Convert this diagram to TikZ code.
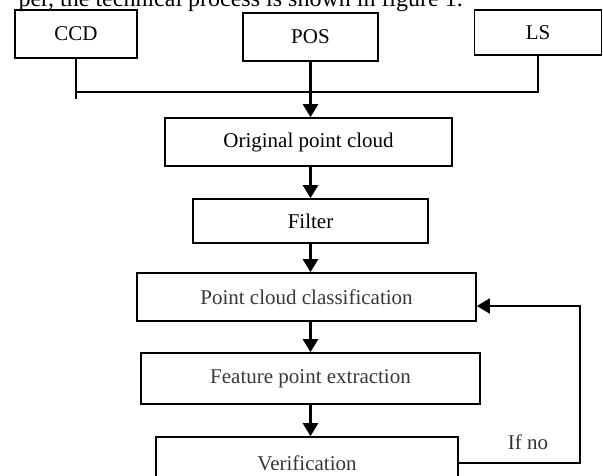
\documentclass[tikz,border=0pt]{standalone}
\usepackage{fontspec}
\setmainfont{Liberation Serif}
\usepackage{tikz}
\usetikzlibrary{arrows.meta}
\tikzstyle{procbox}=[draw,%
                     rectangle,%
                     line width    = 1.6pt,%
                     inner sep     = 0pt,%
                     font          = \fontsize{21}{25}\selectfont]
\tikzstyle{greybox}=[procbox, text=black!78]
\tikzstyle{flow}=[-{Triangle[width=15pt,length=13pt]}, line width=2.2pt]
\tikzstyle{busline}=[line width=1.7pt]

\begin{document}
\begin{tikzpicture}[x=1pt,y=-1pt]
            \useasboundingbox (0,0) rectangle (603,475);
            % cut-off line of the page text above the figure
            \node[anchor=base east, inner sep=0pt, font=\fontsize{24}{29}\selectfont] (caption) at (463,6) {per, the technical process is shown in figure 1.};
            % sensors
            \node[procbox, minimum width=122pt, minimum height=48pt] (ccd) at (76,34) {CCD};
            \node[procbox, minimum width=135pt, minimum height=48pt] (pos) at (310.5,37) {POS};
            \node[procbox, minimum width=127pt, minimum height=45pt] (ls)  at (538,32.5) {LS};
            % processing chain
            \node[procbox, minimum width=287pt, minimum height=48pt] (orig)   at (308.5,142) {Original point cloud};
            \node[procbox, minimum width=235pt, minimum height=44pt] (filter) at (310.5,221) {Filter};
            \node[greybox, minimum width=339pt, minimum height=48pt] (cls)    at (306.5,297) {Point cloud classification};
            \node[greybox, minimum width=339pt, minimum height=51pt] (feat)   at (310.5,378.5) {Feature point extraction};
            \node[greybox, minimum width=302pt, minimum height=52pt] (verif)  at (307,463) {Verification};
            \coordinate (bus)  at (0,92);
            \coordinate (loop) at (580,306);
            % collecting line
            \draw [busline] (ccd.south) -- ++(0,40);
            \draw [busline] (ccd.south |- bus) -- (ls.south |- bus) -- (ls.south);
            % arrows down the chain
            \draw [flow] (pos.south) -- (pos.south |- orig.north);
            \draw [flow] (orig.south -| pos.south) -- (pos.south |- filter.north);
            \draw [flow] (filter.south -| pos.south) -- (pos.south |- cls.north);
            \draw [flow] (cls.south -| pos.south) -- (pos.south |- feat.north);
            \draw [flow] (feat.south -| pos.south) -- (pos.south |- verif.north);
            % feedback
            \draw [busline, -{Triangle[width=15pt,length=13pt]}] (verif.east) -| (loop) -- (loop -| cls.east);
            \node[font=\fontsize{21}{25}\selectfont, text=black!80] (ifno) at (528,442) {If no};
\end{tikzpicture}
\end{document}
